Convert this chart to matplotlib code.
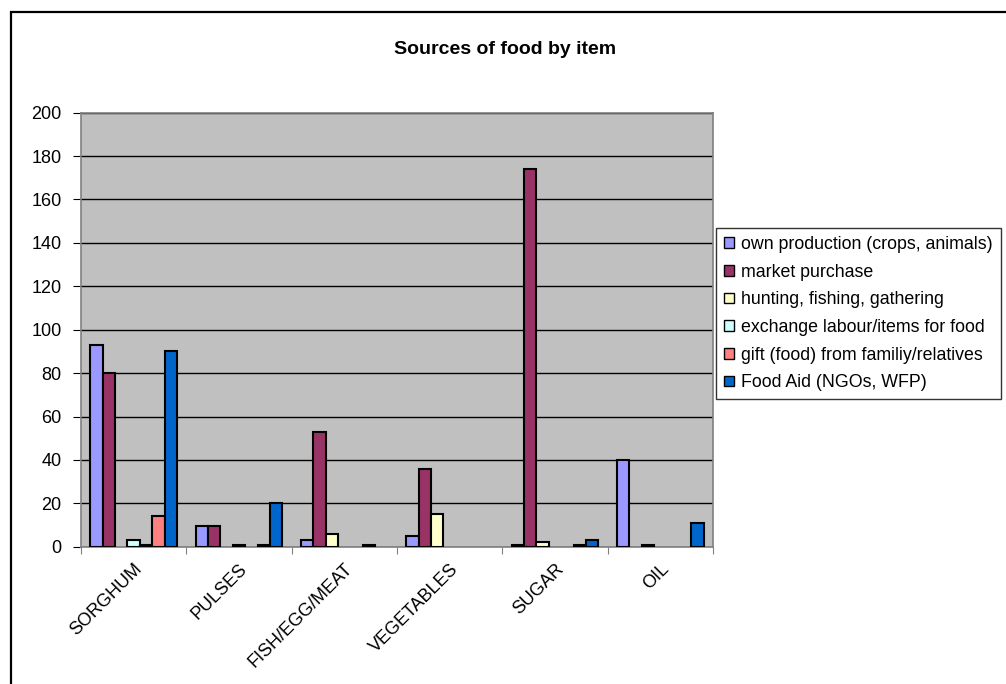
"""Sources of food by item - grouped column chart."""
import matplotlib.pyplot as plt
import numpy as np
from matplotlib.patches import Patch, Rectangle

plt.rcParams["font.family"] = ["Liberation Sans", "DejaVu Sans"]

# ---------------------------------------------------------------------------
# data (nan = blank cell, nothing drawn)
# ---------------------------------------------------------------------------
nan = np.nan
categories = ["SORGHUM", "PULSES", "FISH/EGG/MEAT", "VEGETABLES", "SUGAR", "OIL"]

own_production = [93, 9.5, 3, 5, 1, 40]
market_purchase = [80, 9.5, 53, 36, 174, nan]
hunting = [nan, nan, 6, 15, 2, 1]
exchange = [3, 1, nan, nan, nan, nan]
series5 = [1, nan, nan, nan, nan, nan]  # legend entry removed in the original
gift = [14, 1, 1, nan, 1, nan]
food_aid = [90, 20, nan, nan, 3, 11]

series_labels = [
    "own production (crops, animals)",
    "market purchase",
    "hunting, fishing, gathering",
    "exchange labour/items for food",
    None,
    "gift (food) from familiy/relatives",
    "Food Aid (NGOs, WFP)",
]
series_colors = ["#9999FF", "#993366", "#FFFFCC", "#CCFFFF", "#660066", "#FF8080", "#0066CC"]
series_values = [own_production, market_purchase, hunting, exchange, series5, gift, food_aid]

y_ticks = list(range(0, 201, 20))

# ---------------------------------------------------------------------------
W, H = 1006, 684
fig = plt.figure(figsize=(W / 100, H / 100), dpi=100)
fig.patch.set_facecolor("white")

# outer chart border (right/bottom cut off in the original)
fig.add_artist(Rectangle((11 / W, -0.1), 1.2, (H - 12) / H + 0.1,
                         transform=fig.transFigure, fill=False,
                         edgecolor="black", linewidth=1.6))

ax = fig.add_axes([81 / W, (H - 546.7) / H, 632 / W, 434 / H])
ax.set_facecolor("#C0C0C0")

n = len(series_values)
bar_w = 1 / (n + 1.5)
x = np.arange(len(categories))
for i, (vals, color) in enumerate(zip(series_values, series_colors)):
    offs = (i - (n - 1) / 2) * bar_w
    ax.bar(x + offs, vals, width=bar_w, color=color,
           edgecolor="black", linewidth=1.5, zorder=3)

ax.set_xlim(-0.5, len(categories) - 0.5)
ax.set_ylim(0, 200)
ax.set_yticks(y_ticks)
ax.yaxis.grid(True, color="black", linewidth=1, zorder=1)
ax.set_axisbelow(True)

# category boundaries as tick marks, labels at group centres
ax.set_xticks(np.arange(len(categories) + 1) - 0.5)
ax.set_xticklabels([])
ax.set_xticks(x, minor=True)
ax.set_xticklabels(categories, minor=True, rotation=45, ha="right",
                   rotation_mode="anchor", fontsize=13)
ax.tick_params(axis="x", which="minor", length=0, pad=10)
ax.tick_params(axis="x", which="major", length=5, color="#808080", direction="out")
ax.tick_params(axis="y", length=6, color="black", labelsize=13, pad=8)

for sp in ax.spines.values():
    sp.set_color("#808080")
    sp.set_linewidth(1.2)

fig.text(505 / W, 1 - 50 / H, "Sources of food by item", ha="center", va="center",
         fontsize=14, fontweight="bold")

handles = [Patch(facecolor=c, edgecolor="black", linewidth=1, label=l)
           for c, l in zip(series_colors, series_labels) if l is not None]
leg = fig.legend(handles=handles, loc="upper left",
                 bbox_to_anchor=(716 / W, 1 - 228 / H),
                 fontsize=12.8, frameon=True, fancybox=False,
                 handlelength=0.55, handleheight=0.55, handletextpad=0.4,
                 labelspacing=0.6, borderpad=0.45, borderaxespad=0)
leg.get_frame().set_edgecolor("black")
leg.get_frame().set_linewidth(1)

fig.savefig("out.png", dpi=100)
